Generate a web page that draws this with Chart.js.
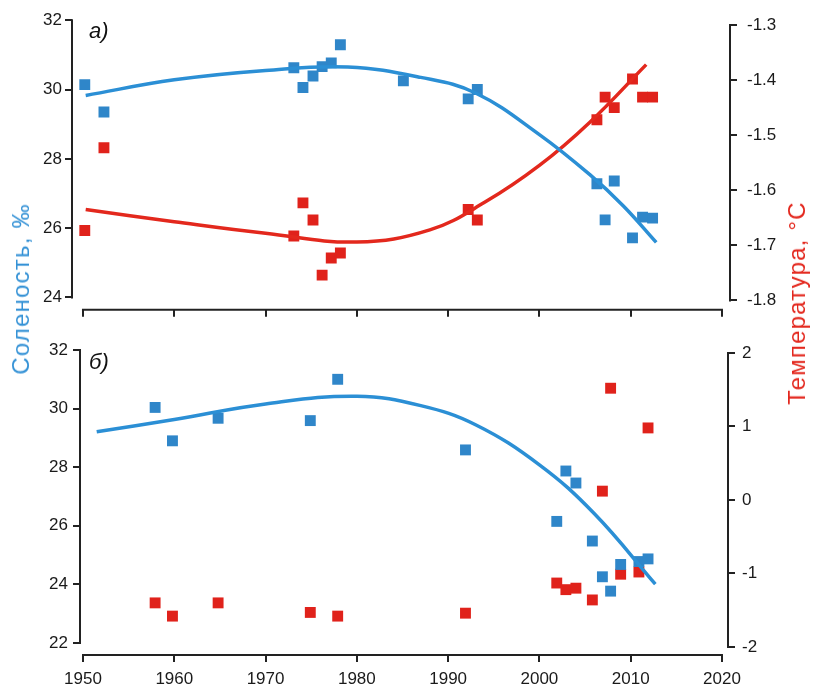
<!DOCTYPE html>
<html>
<head>
<meta charset="utf-8">
<script src="https://cdn.jsdelivr.net/npm/chart.js@4.4.1/dist/chart.umd.min.js"></script>
<style>
  body { margin: 0; background: #fff; width: 813px; height: 689px; position: relative; overflow: hidden;
         font-family: "Liberation Sans", Arial, sans-serif; }
  .box { position: absolute; left: 0; width: 813px; }
  #boxA { top: 0; height: 330px; }
  #boxB { top: 330px; height: 359px; }
  .panel { position: absolute; font-style: italic; font-size: 22px; color: #111; }
  .title { position: absolute; white-space: nowrap; font-size: 24px; letter-spacing: 1.2px;
           transform: translate(-50%, -50%) rotate(-90deg); }
</style>
</head>
<body>

<div class="box" id="boxA"><canvas id="chartA"></canvas></div>
<div class="box" id="boxB"><canvas id="chartB"></canvas></div>

<div class="panel" style="left:89px; top:18px;">а)</div>
<div class="panel" style="left:89px; top:349px;">б)</div>
<div class="title" style="left:21px; top:289px; color:#3592d6;">Соленость, ‰</div>
<div class="title" style="left:797px; top:303px; color:#e3271d;">Температура, °С</div>

<script>
// x axis
const xTicks = [1950, 1960, 1970, 1980, 1990, 2000, 2010, 2020];

// ---- panel а) ----
const aSalTicks = [24, 26, 28, 30, 32];
const aTempTicks = [-1.8, -1.7, -1.6, -1.5, -1.4, -1.3];

const aSalYears = [1950.2, 1952.3, 1973.1, 1974.1, 1975.2, 1976.2, 1977.2, 1978.2, 1985.1, 1992.2, 1993.2, 2006.3, 2007.2, 2008.2, 2010.2, 2011.3, 2012.4];
const aSal = [30.14, 29.35, 30.63, 30.06, 30.39, 30.66, 30.77, 31.29, 30.25, 29.73, 30.0, 27.28, 26.24, 27.36, 25.72, 26.32, 26.29];

const aTempYears = [1950.2, 1952.3, 1973.1, 1974.1, 1975.2, 1976.2, 1977.2, 1978.2, 1992.2, 1993.2, 2006.3, 2007.2, 2008.2, 2010.2, 2011.3, 2012.4];
const aTemp = [-1.673, -1.523, -1.683, -1.623, -1.654, -1.754, -1.723, -1.714, -1.635, -1.654, -1.472, -1.431, -1.45, -1.398, -1.431, -1.431];

const aSalFitYears = [1950.3, 1960, 1970, 1979, 1987, 1993, 2000, 2005.5, 2009.2, 2012.8];
const aSalFit = [29.83, 30.28, 30.55, 30.65, 30.35, 29.9, 28.7, 27.55, 26.64, 25.59];

const aTempFitYears = [1950.3, 1960, 1970, 1980, 1988, 1994, 2000, 2005.5, 2011.7];
const aTempFit = [-1.635, -1.657, -1.678, -1.694, -1.672, -1.622, -1.555, -1.477, -1.372];

// ---- panel б) ----
const bSalTicks = [22, 24, 26, 28, 30, 32];
const bTempTicks = [-2, -1, 0, 1, 2];

const bYears = [1957.9, 1959.8, 1964.8, 1974.9, 1977.9, 1991.9, 2002.9, 2004.0, 2001.9, 2005.8, 2008.9, 2006.9, 2007.8, 2010.9, 2011.9];
const bSal = [30.04, 28.9, 29.67, 29.59, 31.0, 28.59, 27.87, 27.46, 26.15, 25.48, 24.68, 24.26, 23.77, 24.78, 24.87];

const bTempYears = [1957.9, 1959.8, 1964.8, 1974.9, 1977.9, 1991.9, 2001.9, 2002.9, 2004.0, 2005.8, 2006.9, 2007.8, 2008.9, 2010.9, 2011.9];
const bTemp = [-1.4, -1.58, -1.4, -1.53, -1.58, -1.54, -1.13, -1.22, -1.2, -1.36, 0.12, 1.52, -1.01, -0.98, 0.98];

const bSalFitYears = [1951.5, 1960, 1970, 1980, 1987, 1993, 2000, 2006, 2012.7];
const bSalFit = [29.21, 29.63, 30.16, 30.42, 30.1, 29.45, 28.08, 26.42, 24.01];

const BLUE_LINE = '#2b8fd5';
const BLUE_PT = '#2f86c9';
const RED_LINE = '#e3281d';
const RED_PT = '#e0221b';
const AXIS = '#222';
const FONT = '"Liberation Sans", Arial, sans-serif';

const pts = (xs, ys) => xs.map((x, i) => ({ x: x, y: ys[i] }));

// draws the detached axis lines between first and last tick
const axisLines = {
  id: 'axisLines',
  afterDraw(chart) {
    const ctx = chart.ctx, a = chart.chartArea;
    ctx.save();
    ctx.strokeStyle = AXIS;
    ctx.lineWidth = 2;
    Object.values(chart.scales).forEach(s => {
      const t = s.ticks;
      const p0 = s.getPixelForValue(t[0].value);
      const p1 = s.getPixelForValue(t[t.length - 1].value);
      ctx.beginPath();
      if (s.axis === 'x') {
        ctx.moveTo(p0 - 1, a.bottom); ctx.lineTo(p1 + 1, a.bottom);
      } else {
        const x = s.position === 'left' ? a.left : a.right;
        ctx.moveTo(x, p0 + 1); ctx.lineTo(x, p1 - 1);
      }
      ctx.stroke();
    });
    ctx.restore();
  }
};

function scale(opts) {
  return {
    type: 'linear',
    position: opts.position,
    min: opts.min,
    max: opts.max,
    afterBuildTicks: s => { s.ticks = opts.ticks.map(v => ({ value: v })); },
    afterFit: s => { if (opts.width) s.width = opts.width; if (opts.height) s.height = opts.height; },
    border: { display: false },
    grid: { display: true, drawOnChartArea: false, drawTicks: true, tickLength: 7, color: AXIS, lineWidth: 2 },
    ticks: {
      display: opts.labels !== false,
      padding: opts.padding || 4,
      color: '#1a1a1a',
      font: { family: FONT, size: 17 },
      callback: opts.fmt || (v => v)
    }
  };
}

function scatter(data, color, axis) {
  return {
    type: 'scatter', data: data, yAxisID: axis,
    pointStyle: 'rect', pointRadius: 7.7, pointBorderWidth: 0,
    backgroundColor: color, borderColor: color, showLine: false
  };
}

function fitLine(data, color, axis) {
  return {
    type: 'line', data: data, yAxisID: axis,
    borderColor: color, borderWidth: 3.5, pointRadius: 0,
    tension: 0.4, fill: false
  };
}

const common = {
  responsive: true,
  maintainAspectRatio: false,
  animation: false,
  plugins: { legend: { display: false }, tooltip: { enabled: false } },
};

new Chart(document.getElementById('chartA'), {
  data: {
    datasets: [
      fitLine(pts(aSalFitYears, aSalFit), BLUE_LINE, 'sal'),
      fitLine(pts(aTempFitYears, aTempFit), RED_LINE, 'temp'),
      scatter(pts(aSalYears, aSal), BLUE_PT, 'sal'),
      scatter(pts(aTempYears, aTemp), RED_PT, 'temp')
    ]
  },
  options: Object.assign({}, common, {
    layout: { padding: { top: 17, left: 0, right: 0, bottom: 0 } },
    scales: {
      x: scale({ position: 'bottom', min: 1948.8, max: 2020.88, ticks: xTicks, labels: false, height: 7 }),
      sal: scale({ position: 'left', min: 23.645, max: 32, ticks: aSalTicks, width: 72, padding: 3 }),
      temp: scale({ position: 'right', min: -1.817, max: -1.2914, ticks: aTempTicks, width: 83, padding: 10,
                    fmt: v => v.toFixed(1) })
    }
  }),
  plugins: [axisLines]
});

new Chart(document.getElementById('chartB'), {
  data: {
    datasets: [
      fitLine(pts(bSalFitYears, bSalFit), BLUE_LINE, 'sal'),
      scatter(pts(bYears, bSal), BLUE_PT, 'sal'),
      scatter(pts(bTempYears, bTemp), RED_PT, 'temp')
    ]
  },
  options: Object.assign({}, common, {
    layout: { padding: { top: 20, left: 0, right: 0, bottom: 0 } },
    scales: {
      x: scale({ position: 'bottom', min: 1949.67, max: 2020.66, ticks: xTicks, height: 34, padding: 7 }),
      sal: scale({ position: 'left', min: 21.59, max: 32, ticks: bSalTicks, width: 80, padding: 5 }),
      temp: scale({ position: 'right', min: -2.109, max: 2.04, ticks: bTempTicks, width: 85, padding: 7 })
    }
  }),
  plugins: [axisLines]
});
</script>
</body>
</html>
